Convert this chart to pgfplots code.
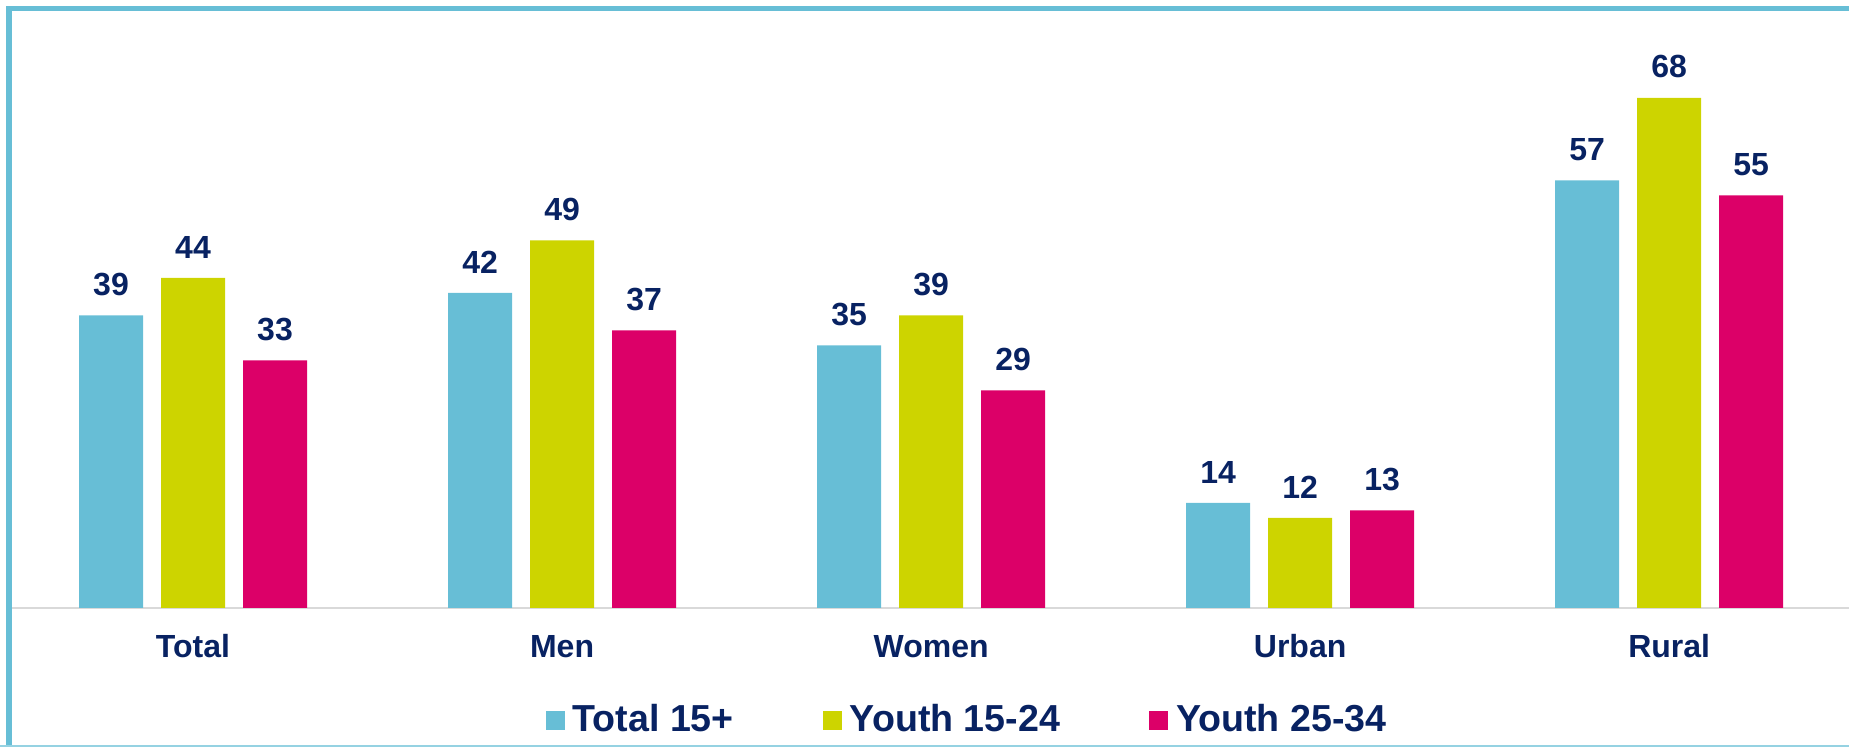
\documentclass[border=0pt]{standalone}
\usepackage{pgfplots}
\pgfplotsset{compat=1.18}
\usepackage{fontspec}
\setmainfont{Liberation Sans}
\definecolor{cblue}{RGB}{103,190,214}
\definecolor{cyel}{RGB}{205,212,0}
\definecolor{cmag}{RGB}{220,0,104}
\definecolor{navy}{RGB}{8,34,98}
\definecolor{axgray}{RGB}{217,217,217}
\begin{document}
\begin{tikzpicture}
\useasboundingbox (0,0) rectangle (462.25pt,186.75pt);
\draw[cblue, line width=1.4pt] (2.2pt,0pt) -- (2.2pt,184.625pt);
\draw[cblue, line width=1.4pt] (1.5pt,184.625pt) -- (462.25pt,184.625pt);
\draw[cblue!70, line width=0.5pt] (0pt,0.25pt) -- (462.25pt,0.25pt);
\begin{axis}[
  at={(3.05pt,34.75pt)}, anchor=south west,
  scale only axis, width=459.45pt, height=149.25pt,
  xmin=-0.49, xmax=4.49, ymin=0, ymax=79.6,
  enlargelimits=false,
  ybar=4.5pt, bar width=16pt,
  axis x line*=bottom, axis y line=none,
  x axis line style={draw=axgray, line width=0.6pt},
  xtick=data, xticklabels={Total,Men,Women,Urban,Rural},
  major tick length=0pt,
  /pgf/number format/assume math mode=true,
  xticklabel style={font=\bfseries\fontsize{8}{9.6}\selectfont, text=navy, anchor=base, inner sep=0pt, yshift=-12.5pt},
  nodes near coords,
  every node near coord/.append style={font=\bfseries\fontsize{8}{9.6}\selectfont, text=navy, anchor=south, inner sep=0pt, yshift=4.75pt},
  legend columns=3,
  legend style={draw=none, fill=none, at={(0.519,-0.1884)}, anchor=center,
    inner sep=0pt, nodes={inner sep=0pt},
    font=\bfseries\fontsize{9.4}{11}\selectfont, text=navy,
    /tikz/every even column/.append style={column sep=22.25pt},
    /tikz/every odd column/.append style={column sep=2pt}},
]
\addplot[fill=cblue, draw=none, legend image code/.code={\fill[cblue] (0pt,-2.375pt) rectangle (4.75pt,2.375pt);}] coordinates {(0,39) (1,42) (2,35) (3,14) (4,57)};
\addplot[fill=cyel, draw=none, legend image code/.code={\fill[cyel] (0pt,-2.375pt) rectangle (4.75pt,2.375pt);}] coordinates {(0,44) (1,49) (2,39) (3,12) (4,68)};
\addplot[fill=cmag, draw=none, legend image code/.code={\fill[cmag] (0pt,-2.375pt) rectangle (4.75pt,2.375pt);}] coordinates {(0,33) (1,37) (2,29) (3,13) (4,55)};
\legend{Total 15+,Youth 15-24,Youth 25-34}
\end{axis}
\end{tikzpicture}
\end{document}
